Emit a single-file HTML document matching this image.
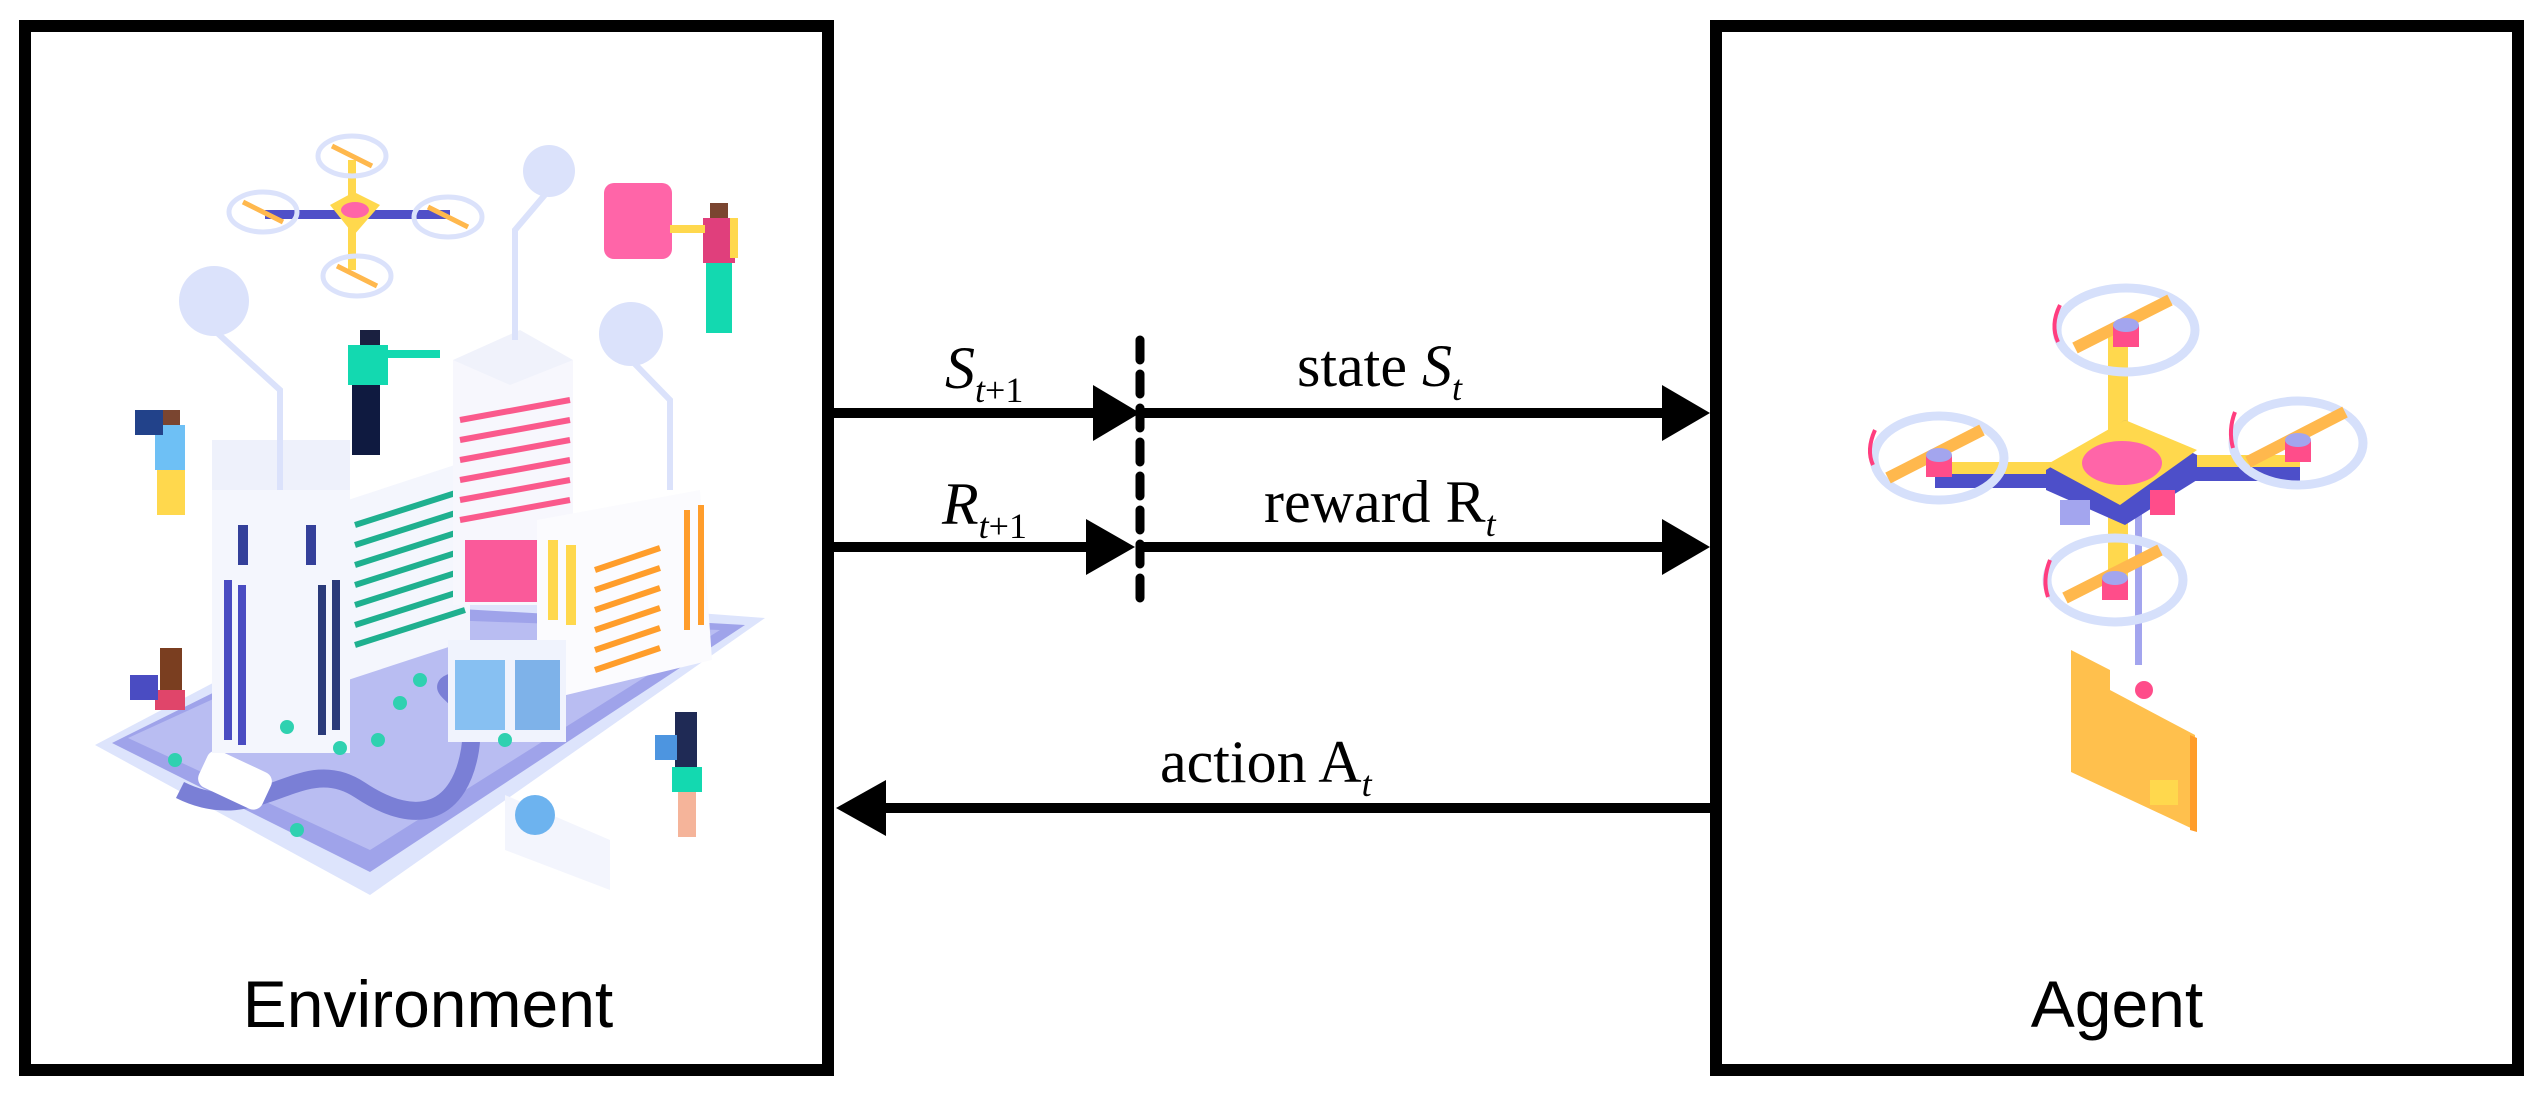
<!DOCTYPE html>
<html><head><meta charset="utf-8"><style>
html,body{margin:0;padding:0;background:#fff}
svg{display:block}
.ser{font-family:"Liberation Serif",serif;font-size:60px}
.san{font-family:"Liberation Sans",sans-serif;font-size:66px}
</style></head><body>
<svg width="2545" height="1099" viewBox="0 0 2545 1099" xmlns="http://www.w3.org/2000/svg">
<rect x="25" y="26" width="803" height="1044" fill="none" stroke="#000" stroke-width="12"/>
<rect x="1716" y="26" width="802" height="1044" fill="none" stroke="#000" stroke-width="12"/>

<g>
<polygon points="95,745 390,590 765,618 370,895" fill="#dde4fc"/>
<polygon points="112,743 390,605 745,625 370,872" fill="#9fa3ea"/>
<polygon points="128,738 390,618 720,630 370,850" fill="#b9bdf2"/>
<path d="M180,790 C260,830 300,750 360,790 S 460,810 470,750 S 420,690 460,680" stroke="#7a7fd6" stroke-width="18" fill="none"/>
<rect x="200" y="760" width="70" height="40" rx="10" fill="#fff" transform="rotate(25 235 780)"/>
<rect x="212" y="477" width="138" height="276" fill="#f4f6fd"/>
<rect x="212" y="440" width="138" height="50" fill="#eef1fb"/>
<rect x="224" y="580" width="8" height="160" fill="#4a4cc2"/><rect x="238" y="585" width="8" height="160" fill="#4a4cc2"/>
<rect x="318" y="585" width="8" height="150" fill="#2a3a7a"/><rect x="332" y="580" width="8" height="150" fill="#2a3a7a"/>
<rect x="238" y="525" width="10" height="40" fill="#34409a"/><rect x="306" y="525" width="10" height="40" fill="#34409a"/>
<polygon points="348,500 470,460 470,640 348,680" fill="#f4f6fd"/>
<g stroke="#1fb08f" stroke-width="6">
<line x1="355" y1="525" x2="465" y2="490"/><line x1="355" y1="545" x2="465" y2="510"/><line x1="355" y1="565" x2="465" y2="530"/><line x1="355" y1="585" x2="465" y2="550"/><line x1="355" y1="605" x2="465" y2="570"/><line x1="355" y1="625" x2="465" y2="590"/><line x1="355" y1="645" x2="465" y2="610"/></g>
<rect x="453" y="360" width="120" height="245" fill="#f7f7fd"/>
<polygon points="453,360 520,330 573,360 510,385" fill="#f0f2fb"/>
<g stroke="#fa5a8c" stroke-width="6">
<line x1="460" y1="420" x2="570" y2="400"/><line x1="460" y1="440" x2="570" y2="420"/><line x1="460" y1="460" x2="570" y2="440"/><line x1="460" y1="480" x2="570" y2="460"/><line x1="460" y1="500" x2="570" y2="480"/><line x1="460" y1="520" x2="570" y2="500"/></g>
<rect x="465" y="540" width="100" height="62" fill="#fa5a9a"/>
<polygon points="537,520 700,490 712,660 537,702" fill="#fbfbfe"/>
<rect x="548" y="540" width="10" height="80" fill="#ffd84d"/><rect x="566" y="545" width="10" height="80" fill="#ffd84d"/>
<g stroke="#ff9d2b" stroke-width="6">
<line x1="595" y1="570" x2="660" y2="548"/><line x1="595" y1="590" x2="660" y2="568"/><line x1="595" y1="610" x2="660" y2="588"/><line x1="595" y1="630" x2="660" y2="608"/><line x1="595" y1="650" x2="660" y2="628"/><line x1="595" y1="670" x2="660" y2="648"/></g>
<rect x="684" y="510" width="6" height="120" fill="#ff9d2b"/><rect x="698" y="505" width="6" height="120" fill="#ff9d2b"/>
<rect x="448" y="640" width="118" height="102" fill="#f0f3fd"/>
<rect x="455" y="660" width="50" height="70" fill="#6db3ef" opacity=".8"/>
<rect x="515" y="660" width="45" height="70" fill="#4d95e0" opacity=".7"/>
<g fill="#2fd1b0"><circle cx="175" cy="760" r="7"/><circle cx="287" cy="727" r="7"/><circle cx="340" cy="748" r="7"/><circle cx="420" cy="680" r="7"/><circle cx="400" cy="703" r="7"/><circle cx="378" cy="740" r="7"/><circle cx="297" cy="830" r="7"/><circle cx="505" cy="740" r="7"/></g>
<g stroke="#dbe2fb" stroke-width="6" fill="none"><path d="M214,330 L280,390 L280,490"/><path d="M549,190 L515,230 L515,340"/><path d="M631,360 L670,400 L670,490"/></g>
<circle cx="214" cy="301" r="35" fill="#dbe2fb"/><circle cx="549" cy="171" r="26" fill="#dbe2fb"/><circle cx="631" cy="334" r="32" fill="#dbe2fb"/>
<rect x="604" y="183" width="68" height="76" rx="10" fill="#ff65a8"/>
<rect x="348" y="160" width="8" height="110" fill="#ffd84d"/>
<rect x="265" y="210" width="185" height="9" fill="#5050c8"/>
<polygon points="330,205 354,192 380,205 354,235" fill="#ffd84d"/><ellipse cx="355" cy="210" rx="14" ry="8" fill="#ff65a8"/>
<g fill="none" stroke="#dbe2fb" stroke-width="5"><ellipse cx="352" cy="156" rx="34" ry="20"/><ellipse cx="263" cy="212" rx="34" ry="20"/><ellipse cx="448" cy="217" rx="34" ry="20"/><ellipse cx="357" cy="276" rx="34" ry="20"/></g>
<g stroke="#ffb84d" stroke-width="5"><line x1="332" y1="146" x2="372" y2="166"/><line x1="243" y1="202" x2="283" y2="222"/><line x1="428" y1="207" x2="468" y2="227"/><line x1="337" y1="266" x2="377" y2="286"/></g>
<g><rect x="160" y="410" width="20" height="15" fill="#7a4530"/><rect x="155" y="425" width="30" height="45" fill="#6ec0f5"/><rect x="157" y="470" width="28" height="45" fill="#ffd84d"/><rect x="135" y="410" width="28" height="25" fill="#22428a"/></g>
<g><rect x="360" y="330" width="20" height="15" fill="#1a2040"/><rect x="348" y="345" width="40" height="40" fill="#13d9b0"/><rect x="380" y="350" width="60" height="8" fill="#13d9b0"/><rect x="352" y="385" width="28" height="70" fill="#0f1a40"/></g>
<g><rect x="710" y="203" width="18" height="15" fill="#7a4530"/><rect x="703" y="218" width="32" height="45" fill="#e03f7c"/><rect x="730" y="218" width="8" height="40" fill="#ffd84d"/><rect x="706" y="263" width="26" height="70" fill="#13d9b0"/><rect x="670" y="225" width="35" height="8" fill="#ffd84d"/></g>
<g><rect x="160" y="648" width="22" height="45" fill="#7a3e20"/><rect x="155" y="690" width="30" height="20" fill="#e0456a"/><rect x="130" y="675" width="28" height="25" fill="#4a4cc2"/></g>
<g><rect x="675" y="712" width="22" height="55" fill="#1f2a55"/><rect x="672" y="767" width="30" height="25" fill="#13d9b0"/><rect x="678" y="792" width="18" height="45" fill="#f5b49a"/><rect x="655" y="735" width="22" height="25" fill="#4d95e0"/></g>
<polygon points="505,795 610,840 610,890 505,850" fill="#f3f5fd"/><circle cx="535" cy="815" r="20" fill="#6db3ef"/>
</g>

<g>
<rect x="2108" y="335" width="20" height="110" fill="#ffd84d"/>
<rect x="2108" y="500" width="20" height="90" fill="#ffd84d"/>
<rect x="2135" y="505" width="7" height="160" fill="#a3a5ee"/>
<rect x="1935" y="462" width="125" height="12" fill="#ffd84d"/><rect x="1935" y="474" width="125" height="14" fill="#4d4fc9"/>
<rect x="2190" y="455" width="110" height="12" fill="#ffd84d"/><rect x="2190" y="467" width="110" height="14" fill="#4d4fc9"/>
<polygon points="2046,470 2125,420 2197,455 2197,480 2125,525 2046,490" fill="#4d4fc9"/>
<polygon points="2046,465 2125,420 2197,450 2120,505" fill="#ffd84d"/>
<ellipse cx="2122" cy="463" rx="40" ry="22" fill="#ff65a8"/>
<rect x="2060" y="500" width="30" height="25" fill="#a3a5ee"/><rect x="2150" y="490" width="25" height="25" fill="#ff4d8a"/>
<polygon points="2071,650 2110,670 2110,690 2195,735 2195,830 2071,772" fill="#ffc04d"/>
<polygon points="2190,735 2197,738 2197,832 2190,830" fill="#ff9d2b"/>
<rect x="2150" y="780" width="28" height="25" fill="#ffd84d"/>
<circle cx="2144" cy="690" r="9" fill="#ff4d8a"/>
<g fill="none" stroke="#d6e0fb" stroke-width="9">
<ellipse cx="2126" cy="330" rx="69" ry="42"/><ellipse cx="1939" cy="458" rx="65" ry="42"/><ellipse cx="2298" cy="443" rx="65" ry="42"/><ellipse cx="2115" cy="580" rx="68" ry="42"/></g>
<g stroke="#ffb84d" stroke-width="12">
<line x1="2075" y1="348" x2="2170" y2="300"/><line x1="1888" y1="478" x2="1982" y2="430"/><line x1="2248" y1="462" x2="2345" y2="412"/><line x1="2065" y1="598" x2="2160" y2="550"/></g>
<g><rect x="2113" y="325" width="26" height="22" fill="#ff4d8a"/><ellipse cx="2126" cy="325" rx="13" ry="7" fill="#a3a5ee"/>
<rect x="1926" y="455" width="26" height="22" fill="#ff4d8a"/><ellipse cx="1939" cy="455" rx="13" ry="7" fill="#a3a5ee"/>
<rect x="2285" y="440" width="26" height="22" fill="#ff4d8a"/><ellipse cx="2298" cy="440" rx="13" ry="7" fill="#a3a5ee"/>
<rect x="2102" y="578" width="26" height="22" fill="#ff4d8a"/><ellipse cx="2115" cy="578" rx="13" ry="7" fill="#a3a5ee"/></g>
<g stroke="#ff3d7f" stroke-width="4" fill="none"><path d="M2060,305 Q2050,325 2058,342"/><path d="M1875,430 Q1866,450 1873,465"/><path d="M2235,412 Q2228,430 2233,448"/><path d="M2050,560 Q2042,580 2048,597"/></g>
</g>

<g stroke="#000" stroke-width="10">
<line x1="834" y1="413" x2="1100" y2="413"/>
<line x1="1140" y1="413" x2="1670" y2="413"/>
<line x1="834" y1="547" x2="1095" y2="547"/>
<line x1="1140" y1="547" x2="1670" y2="547"/>
<line x1="880" y1="808" x2="1710" y2="808"/>
<line x1="1140" y1="340" x2="1140" y2="612" stroke-dasharray="20,14" stroke-linecap="round" stroke-width="9"/>
</g>
<g fill="#000">
<polygon points="1093,385 1140,413 1093,441"/>
<polygon points="1086,519 1135,547 1086,575"/>
<polygon points="1662,385 1710,413 1662,441"/>
<polygon points="1662,519 1710,547 1662,575"/>
<polygon points="886,780 836,808 886,836"/>
</g>

<text class="ser" x="945" y="388"><tspan font-style="italic">S</tspan><tspan font-size="36" dy="14"><tspan font-style="italic">t</tspan>+1</tspan></text>
<text class="ser" x="1297" y="386">state <tspan font-style="italic">S</tspan><tspan font-size="36" dy="14" font-style="italic">t</tspan></text>
<text class="ser" x="942" y="524"><tspan font-style="italic">R</tspan><tspan font-size="36" dy="14"><tspan font-style="italic">t</tspan>+1</tspan></text>
<text class="ser" x="1264" y="522">reward R<tspan font-size="36" dy="14" font-style="italic">t</tspan></text>
<text class="ser" x="1160" y="782">action A<tspan font-size="36" dy="14" font-style="italic">t</tspan></text>
<text class="san" x="428" y="1027" text-anchor="middle">Environment</text>
<text class="san" x="2117" y="1027" text-anchor="middle">Agent</text>
</svg>
</body></html>
